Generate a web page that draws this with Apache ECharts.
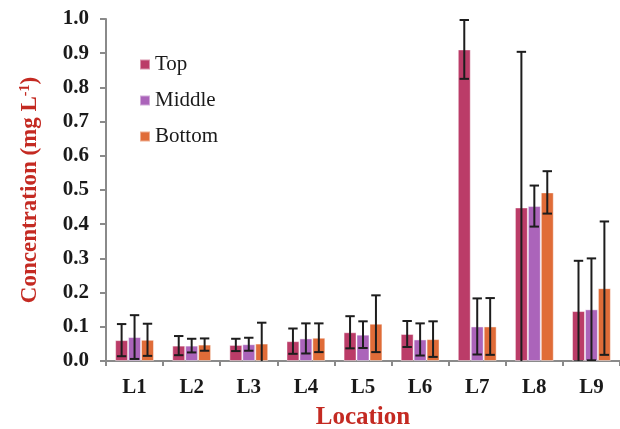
<!DOCTYPE html>
<html>
<head>
<meta charset="utf-8">
<script src="https://cdn.jsdelivr.net/npm/echarts@6/dist/echarts.min.js"></script>
<style>
  html, body { margin: 0; padding: 0; background: #fff; }
  #chart { width: 620px; height: 429px; }
</style>
</head>
<body>
<div id="chart"></div>
<script>
// Sampling locations
const categories = ['L1', 'L2', 'L3', 'L4', 'L5', 'L6', 'L7', 'L8', 'L9'];
const seriesNames = ['Top', 'Middle', 'Bottom'];

// Mean concentrations (mg L-1) per depth
const topVals    = [0.061, 0.045, 0.047, 0.058, 0.084, 0.079, 0.911, 0.449, 0.146];
const middleVals = [0.070, 0.045, 0.049, 0.066, 0.077, 0.063, 0.101, 0.453, 0.151];
const bottomVals = [0.062, 0.048, 0.051, 0.068, 0.109, 0.064, 0.101, 0.493, 0.213];

// Standard deviations
const topErr    = [0.047, 0.028, 0.018, 0.037, 0.047, 0.038, 0.086, 0.455, 0.147];
const middleErr = [0.064, 0.020, 0.019, 0.044, 0.039, 0.047, 0.082, 0.060, 0.149];
const bottomErr = [0.047, 0.018, 0.061, 0.042, 0.083, 0.052, 0.083, 0.062, 0.195];

// Y axis ticks
const yMin = 0, yMax = 1.0, yStep = 0.1;

const colors = ['#BB3C68', '#AB64BA', '#E06C38'];
const means = [topVals, middleVals, bottomVals];
const errs = [topErr, middleErr, bottomErr];

const CATEGORY_GAP = 0.32;
const SERIF = '"Liberation Serif", "Times New Roman", serif';

function errorSeries(k) {
  return {
    type: 'custom',
    name: seriesNames[k] + ' SD',
    clip: true,
    z: 5,
    data: categories.map((c, i) => [i, means[k][i], errs[k][i]]),
    renderItem: function (params, api) {
      const idx = api.value(0);
      const m = api.value(1);
      const e = api.value(2);
      const band = api.size([1, 0])[0];
      const barW = band * (1 - CATEGORY_GAP) / 3;
      const x = api.coord([idx, m])[0] + (k - 1) * barW;
      const yHi = api.coord([idx, m + e])[1];
      const yLo = api.coord([idx, m - e])[1];
      const cap = 4.7;
      const style = { stroke: '#1d1d1d', lineWidth: 2 };
      return {
        type: 'group',
        children: [
          { type: 'line', shape: { x1: x, y1: yHi, x2: x, y2: yLo }, style: style },
          { type: 'line', shape: { x1: x - cap, y1: yHi, x2: x + cap, y2: yHi }, style: style },
          { type: 'line', shape: { x1: x - cap, y1: yLo, x2: x + cap, y2: yLo }, style: style }
        ]
      };
    }
  };
}

const barSeries = seriesNames.map((name, k) => ({
  type: 'bar',
  name: name,
  data: means[k],
  barGap: '0%',
  barCategoryGap: (CATEGORY_GAP * 100) + '%',
  itemStyle: { color: colors[k], borderColor: 'rgba(255,255,255,0.45)', borderWidth: 1 }
}));

const chart = echarts.init(document.getElementById('chart'), null, { renderer: 'canvas' });
chart.setOption({
  animation: false,
  backgroundColor: '#fff',
  grid: { left: 106, right: 0, top: 19, bottom: 68, containLabel: false, outerBoundsMode: 'none' },
  legend: {
    data: seriesNames,
    orient: 'vertical',
    left: 134,
    top: 49,
    itemWidth: 10,
    itemHeight: 10,
    itemGap: 15,
    icon: 'rect',
    textStyle: { fontFamily: SERIF, fontSize: 21, color: '#1a1a1a', lineHeight: 20 }
  },
  xAxis: {
    type: 'category',
    data: categories,
    boundaryGap: true,
    axisLine: { lineStyle: { color: '#8a8a8a', width: 2 } },
    axisTick: { show: true, length: 5, lineStyle: { color: '#8a8a8a', width: 2 } },
    axisLabel: { margin: 16, fontFamily: SERIF, fontWeight: 'bold', fontSize: 21, color: '#1a1a1a' },
    name: 'Location',
    nameLocation: 'middle',
    nameGap: 44,
    nameTextStyle: { fontFamily: SERIF, fontWeight: 'bold', fontSize: 25, color: '#C42A22' }
  },
  yAxis: {
    type: 'value',
    min: yMin,
    max: yMax,
    interval: yStep,
    splitLine: { show: false },
    axisLine: { show: true, lineStyle: { color: '#8a8a8a', width: 2 } },
    axisTick: { show: true, length: 6, lineStyle: { color: '#8a8a8a', width: 2 } },
    axisLabel: {
      margin: 17,
      formatter: v => v.toFixed(1),
      fontFamily: SERIF, fontWeight: 'bold', fontSize: 21, color: '#1a1a1a'
    },
    name: 'Concentration (mg L{sup|-1})',
    nameLocation: 'middle',
    nameGap: 64,
    nameTextStyle: {
      fontFamily: SERIF, fontWeight: 'bold', fontSize: 23, color: '#C42A22',
      rich: {
        sup: { fontFamily: SERIF, fontWeight: 'bold', fontSize: 14, color: '#C42A22', verticalAlign: 'top', padding: [0, 0, 10, 0] }
      }
    }
  },
  series: barSeries.concat([0, 1, 2].map(errorSeries))
});
</script>
</body>
</html>
